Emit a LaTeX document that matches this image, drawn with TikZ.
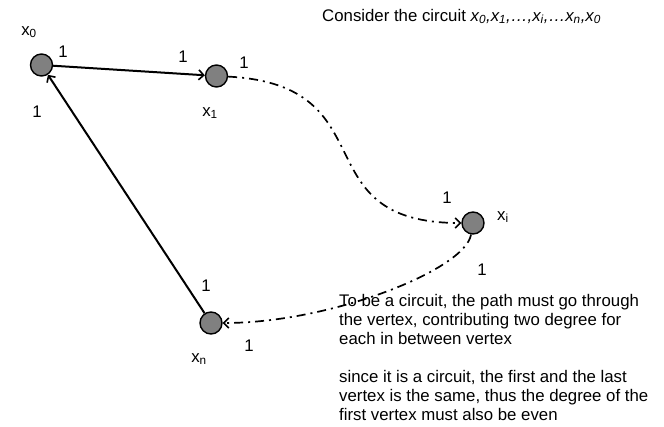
\documentclass[tikz,border=0pt]{standalone}
\usepackage{fontspec}
\setmainfont{Liberation Sans}
\usetikzlibrary{arrows.meta}
\definecolor{vgray}{HTML}{808080}
\begin{document}
\begin{tikzpicture}[x=1pt,y=-1pt,
  vertex/.style={circle,draw=black,fill=vgray,line width=1.4pt,minimum size=22pt,inner sep=0pt},
  lbl/.style={font=\fontsize{16.8}{19}\selectfont,inner sep=0pt},
  txt/.style={font=\fontsize{16.8}{19}\selectfont,inner sep=0pt,align=left},
  tip/.style={-{Straight Barb[length=5pt,width=10pt,line width=1.6pt]}},
  solidarrow/.style={tip,line width=2pt},
  dasharrow/.style={tip,line width=1.7pt,dash pattern=on 9pt off 5pt on 2pt off 5pt}
]
\useasboundingbox (0,0) rectangle (664,426);

% vertices
\node[vertex] (x0) at (41.5,65) {};
\node[vertex] (x1) at (216.5,76) {};
\node[vertex] (xi) at (473,223) {};
\node[vertex] (xn) at (211,323) {};

% vertex names
\node[lbl] (lx0) at (29,32) {x\textsubscript{0}};
\node[lbl] (lx1) at (210,113) {x\textsubscript{1}};
\node[lbl] (lxi) at (503,217) {x\textsubscript{i}};
\node[lbl] (lxn) at (199,359) {x\textsubscript{n}};

% weights
\node[lbl] (w1) at (63,52) {1};
\node[lbl] (w2) at (183,57) {1};
\node[lbl] (w3) at (244,63) {1};
\node[lbl] (w4) at (37,112) {1};
\node[lbl] (w5) at (447,198) {1};
\node[lbl] (w6) at (482,270) {1};
\node[lbl] (w7) at (206,286) {1};
\node[lbl] (w8) at (249,346) {1};

% connectors
\draw[solidarrow] (x0) -- (x1);
\draw[solidarrow] (xn) -- (x0);
\draw[dasharrow] (x1) .. controls (390,85) and (300,223) .. (xi);
\draw[dasharrow] (xi) .. controls (465,270) and (330,323) .. (xn);

% texts
\node[lbl,anchor=base west] (title) at (322,21) {Consider the circuit {\itshape x\textsubscript{0},x\textsubscript{1},\ldots,x\textsubscript{i},\ldots x\textsubscript{n},x\textsubscript{0}}};
\node[txt,anchor=base west] (p1) at (339,344) {To be a circuit, the path must go through\\the vertex, contributing two degree for\\each in between vertex};
\node[txt,anchor=base west] (p2) at (339,420) {since it is a circuit, the first and the last\\vertex is the same, thus the degree of the\\first vertex must also be even};
\end{tikzpicture}
\end{document}
